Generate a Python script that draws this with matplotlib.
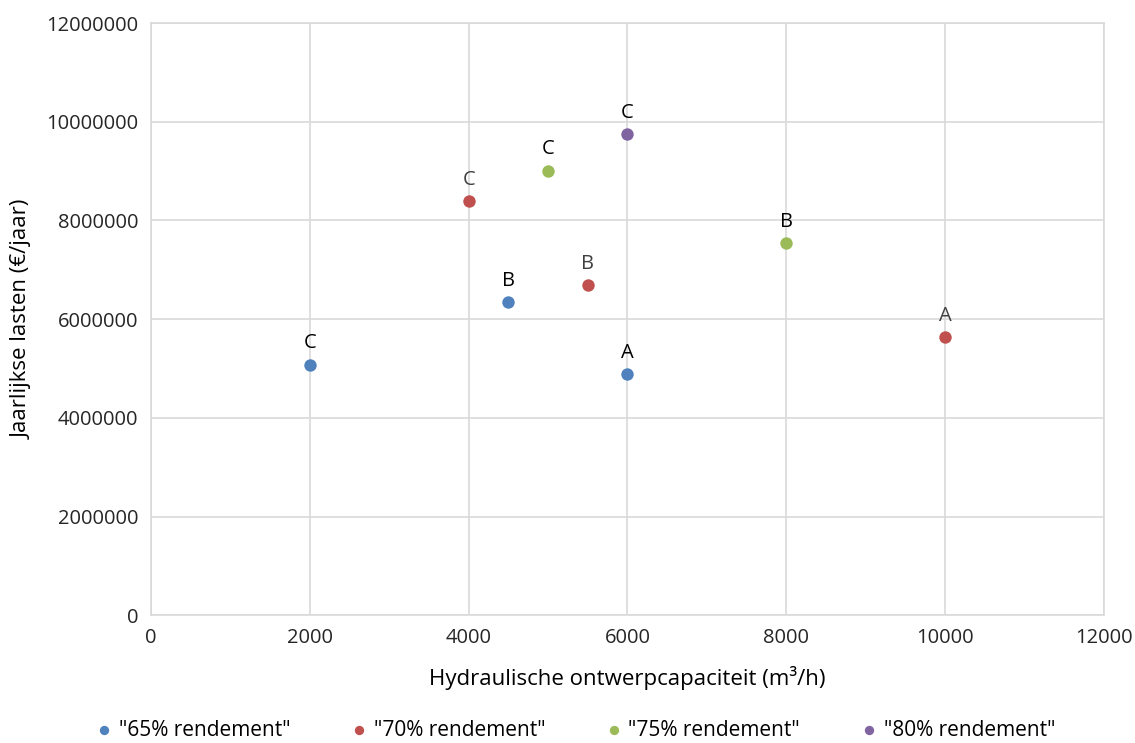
import matplotlib.pyplot as plt

plt.rcParams['font.family'] = ['Open Sans', 'DejaVu Sans']

# capacity (m3/h), annual cost (EUR/year) and option label per efficiency class
series_names = ['"65% rendement"', '"70% rendement"', '"75% rendement"', '"80% rendement"']
colors = ['#4F81BD', '#C0504D', '#9BBB59', '#8064A2']
label_colors = ['#000000', '#404040', '#000000', '#000000']

cap_65 = [2000, 4500, 6000]
cost_65 = [5080000, 6340000, 4880000]
opt_65 = ['C', 'B', 'A']

cap_70 = [4000, 5500, 10000]
cost_70 = [8390000, 6690000, 5630000]
opt_70 = ['C', 'B', 'A']

cap_75 = [5000, 8000]
cost_75 = [9010000, 7540000]
opt_75 = ['C', 'B']

cap_80 = [6000]
cost_80 = [9750000]
opt_80 = ['C']

xs = [cap_65, cap_70, cap_75, cap_80]
ys = [cost_65, cost_70, cost_75, cost_80]
opts = [opt_65, opt_70, opt_75, opt_80]

fig = plt.figure(figsize=(11.35, 7.43), dpi=100)
ax = fig.add_axes([0.133, 0.172, 0.8397, 0.797])

for name, c, lc, x, y, o in zip(series_names, colors, label_colors, xs, ys, opts):
    ax.scatter(x, y, s=80, color=c, label=name, zorder=3, linewidths=0)
    for xi, yi, t in zip(x, y, o):
        ax.annotate(t, (xi, yi), xytext=(0, 8), textcoords='offset points',
                    ha='center', va='bottom', fontsize=14.5, color=lc)

ax.set_xlim(0, 12000)
ax.set_ylim(0, 12000000)
ax.set_xticks(range(0, 12001, 2000))
ax.set_yticks(range(0, 12000001, 2000000))
ax.ticklabel_format(style='plain')
ax.grid(True, color='#D9D9D9', linewidth=1.2)
ax.set_axisbelow(True)
for s in ax.spines.values():
    s.set_color('#D9D9D9')
    s.set_linewidth(1.2)
ax.tick_params(length=0, labelsize=14.5, pad=9, colors='#000000')
for lbl in ax.get_xticklabels() + ax.get_yticklabels():
    lbl.set_color('#262626')

ax.set_xlabel('Hydraulische ontwerpcapaciteit (m³/h)', fontsize=16, labelpad=13)
ax.set_ylabel('Jaarlijkse lasten (€/jaar)', fontsize=16, labelpad=10)

fig.legend(loc='lower center', bbox_to_anchor=(0.506, -0.022), ncol=4, frameon=False,
           fontsize=15, markerscale=0.75, handlelength=1.0, handletextpad=0.2,
           columnspacing=2.8)

fig.savefig('out.png', dpi=100)
